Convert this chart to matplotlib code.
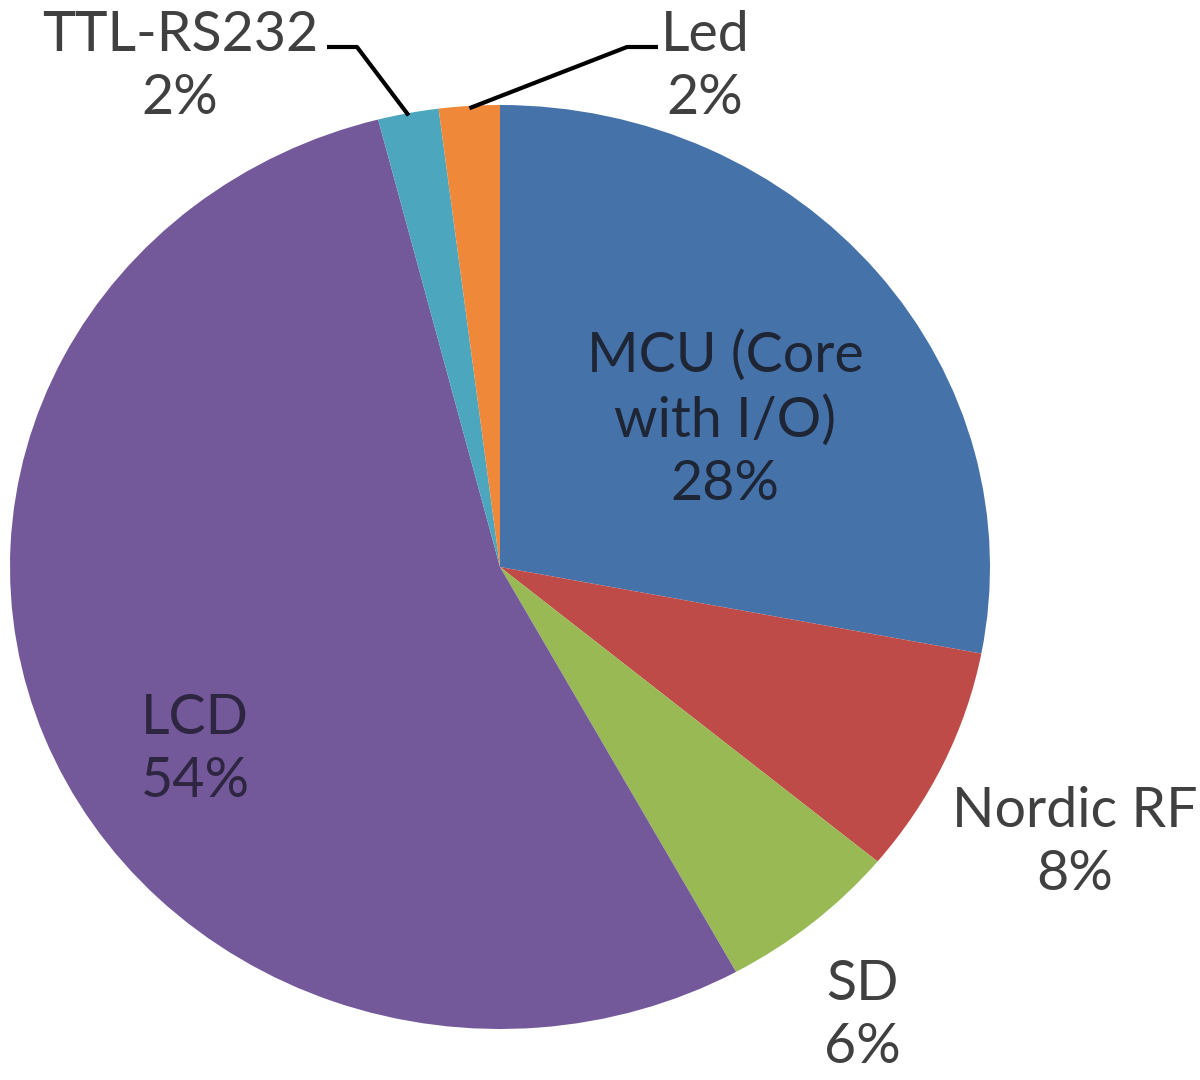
import numpy as np
import matplotlib.pyplot as plt

# 数据
labels = ["MCU (Core\nwith I/O)", "Nordic RF", "SD", "LCD", "TTL-RS232", "Led"]
values = [28, 8, 6, 54, 2, 2]
colors = ["#4672AA", "#BE4B48", "#98B954", "#74599A", "#4BA6BE", "#F0883A"]

# 像素 -> 数据坐标 (饼图中心 500,567；横半径 490，纵半径 462)
cx, cy, rx, ry = 500., 567., 490., 462.
def px(x, y):
    return (x - cx) / rx, (cy - y) / ry

label_pos = [(725, 420), (1075, 843), (862, 1016), (195, 750), (180, 67), (705, 67)]
text_col = ["#1E2636", "#404040", "#404040", "#2E2540", "#404040", "#404040"]

fig = plt.figure(figsize=(12, 10.8), dpi=100)
ax = fig.add_axes([0, 0, 1, 1])
wedges, _ = ax.pie(values, colors=colors, startangle=90, counterclock=False,
                   radius=1, center=(0, 0), wedgeprops=dict(linewidth=0))
ax.set_aspect('auto')
ax.set_xlim(-cx / rx, (1200 - cx) / rx)
ax.set_ylim(-(1080 - cy) / ry, cy / ry)
ax.axis('off')

total = float(sum(values))
for i in range(len(values)):
    txt = "{}\n{:d}%".format(labels[i], int(round(100 * values[i] / total)))
    x, y = px(*label_pos[i])
    ax.text(x, y, txt, ha="center", va="center", fontsize=40, family="Lato",
            color=text_col[i], linespacing=1.3)

# 引线 (TTL-RS232, Led)
for i, (hx0, hx1) in [(4, (327, 357)), (5, (658, 627))]:
    w = wedges[i]
    ang = np.deg2rad((w.theta1 + w.theta2) / 2)
    ex, ey = 0.995 * np.cos(ang), 0.995 * np.sin(ang)
    x0, y0 = px(hx0, 47)
    x1, y1 = px(hx1, 47)
    ax.plot([x0, x1, ex], [y0, y1, ey], color="black", lw=3, solid_capstyle="butt")

plt.savefig("out.png", dpi=100)
